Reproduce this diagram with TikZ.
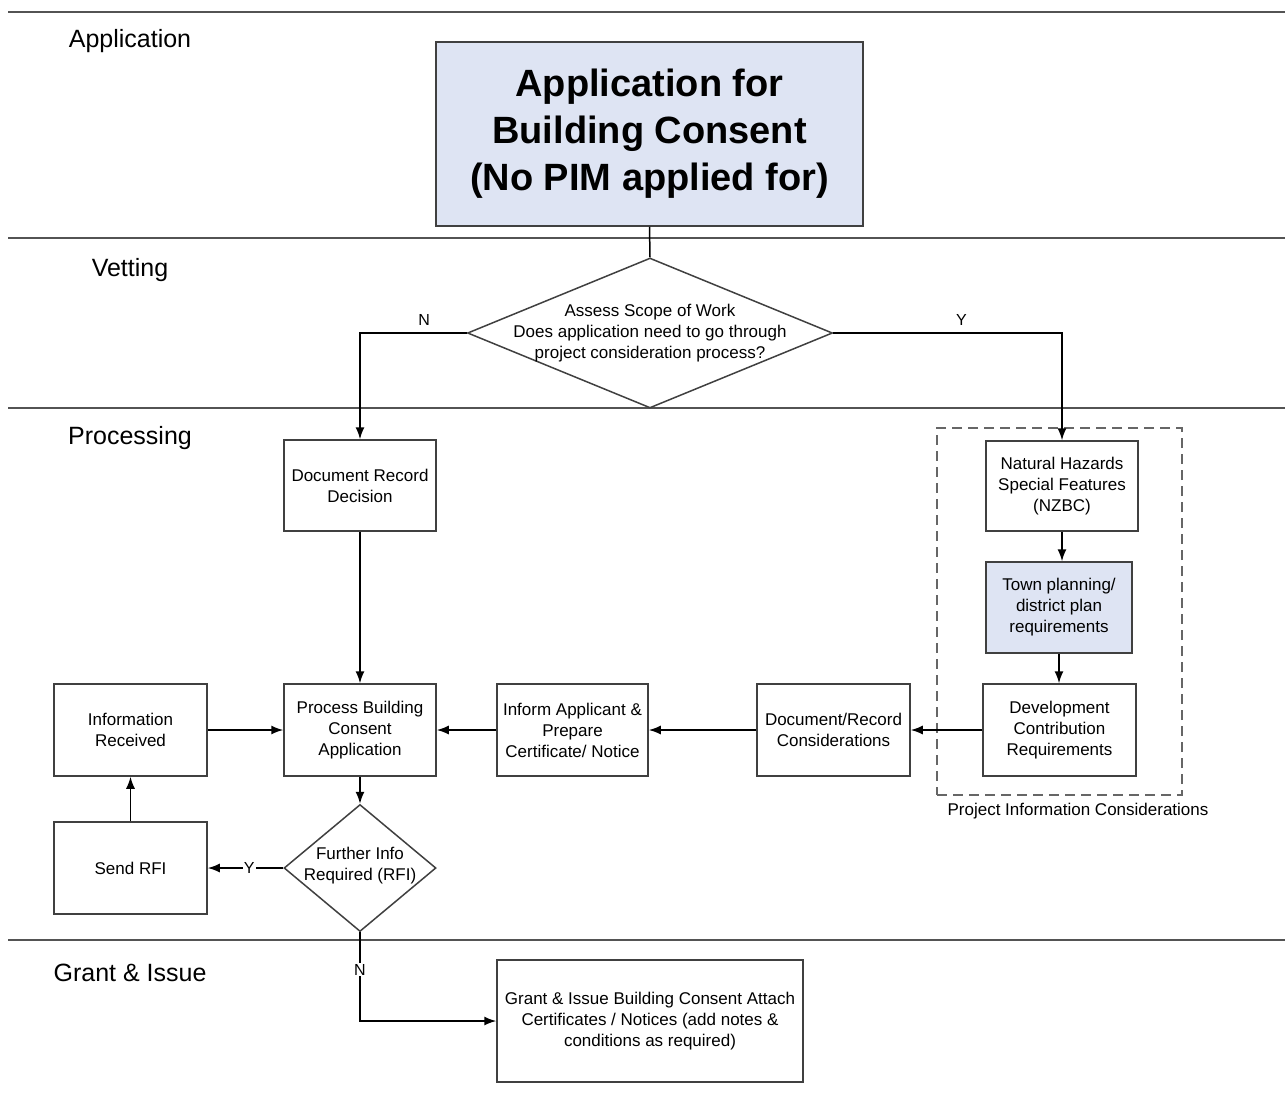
\documentclass[tikz,border=0pt]{standalone}
\usepackage{fontspec}
\setmainfont{Liberation Sans}
\usetikzlibrary{shapes.geometric, arrows.meta}
\definecolor{boxblue}{RGB}{222,228,243}
\definecolor{linegray}{RGB}{64,64,64}
\tikzstyle{process} = [rectangle, minimum width=152, minimum height=92, inner sep=0pt, text centered, align=center, draw=linegray, line width=1.5pt, fill=white, font=\fontsize{17}{21}\selectfont]
\tikzstyle{decision} = [diamond, inner sep=0pt, draw=linegray, line width=1.5pt, fill=white]
\tikzstyle{dectext} = [inner sep=0pt, text centered, align=center, font=\fontsize{17}{21}\selectfont]
\tikzstyle{lane} = [draw=linegray!90, line width=2pt]
\tikzstyle{lanelabel} = [font=\fontsize{25}{30}\selectfont]
\tikzstyle{arrow} = [line width=1.5pt, ->, >={Latex[length=12pt, width=9pt]}]
\tikzstyle{yn} = [font=\fontsize{16}{20}\selectfont, inner sep=1pt]

\begin{document}
\begin{tikzpicture}[x=1pt, y=-1pt]
		\useasboundingbox (0,0) rectangle (1285,1104);
		% swim lanes
		\foreach \y in {12,238,408,940}
			\draw [lane] (8,\y) -- (1285,\y);
		\node (lane1) [lanelabel] at (130,41) {Application};
		\node (lane2) [lanelabel] at (130,270) {Vetting};
		\node (lane3) [lanelabel] at (130,438) {Processing};
		\node (lane4) [lanelabel] at (130,973) {Grant \& Issue};

		\node (start) [process, fill=boxblue, minimum width=427, minimum height=184, font=\bfseries\fontsize{38}{47}\selectfont] at (649.5,134) {Application for\\Building Consent\\(No PIM applied for)};
		\node (dec1) [decision, minimum width=365, minimum height=150] at (650,333) {};
		\node (dec1t) [dectext] at (dec1) {Assess Scope of Work\\Does application need to go through\\project consideration process?};

		% project information group
		\node (grp) [rectangle, draw=linegray!80, line width=2pt, dash pattern=on 10pt off 6pt, minimum width=245, minimum height=367] at (1059.5,611.5) {};
		\node (grplbl) [dectext] at (1078,811) {Project Information Considerations};

		\node (pro1) [process, minimum height=91] at (360,485.5) {Document Record\\Decision};
		\node (pro7) [process, minimum height=90] at (1062,486) {Natural Hazards\\Special Features\\(NZBC)};
		\node (pro8) [process, fill=boxblue, minimum width=146, minimum height=91] at (1059,607.5) {Town planning/\\district plan\\requirements};
		\node (pro6) [process, minimum width=153] at (1059.5,730) {Development\\Contribution\\Requirements};
		\node (pro5) [process, minimum width=153] at (833.5,730) {Document/Record\\Considerations};
		\node (pro4) [process, minimum width=151] at (572.5,730) {Inform Applicant \&\\Prepare\\Certificate/ Notice};
		\node (pro2) [process] at (360,730) {Process Building\\Consent\\Application};
		\node (pro3) [process, minimum width=153] at (130.5,730) {Information\\Received};
		\node (dec2) [decision, minimum width=152, minimum height=127] at (360,868) {};
		\node (dec2t) [dectext] at (360,866) {Further Info\\Required (RFI)};
		\node (pro9) [process, minimum width=153] at (130.5,868) {Send RFI};
		\node (pro10) [process, minimum width=306, minimum height=122] at (650,1021) {Grant \& Issue Building Consent Attach\\Certificates / Notices (add notes \&\\conditions as required)};

		\draw [line width=1.5pt] (start.south) -- (dec1.north);
		\draw [arrow] (dec1.west) -| node [yn, pos=0.2, above=6pt] {N} (pro1.north);
		\draw [arrow] (dec1.east) -| node [yn, pos=0.28, above=6pt] {Y} (pro7.north);
		\draw [arrow] (pro7.south) -- (pro7.south |- pro8.north);
		\draw [arrow] (pro8.south) -- (pro8.south |- pro6.north);
		\draw [arrow] (pro6) -- (pro5);
		\draw [arrow] (pro5) -- (pro4);
		\draw [arrow] (pro4) -- (pro2);
		\draw [arrow] (pro3) -- (pro2);
		\draw [arrow] (pro1) -- (pro2);
		\draw [arrow] (pro2) -- (dec2);
		\draw [arrow] (dec2.west) -- node [yn, fill=white, pos=0.45] {Y} (pro9.east);
		\draw [arrow] (pro9) -- (pro3);
		\draw [arrow] (dec2.south) |- node [yn, fill=white, pos=0.21] {N} (pro10.west);
		\end{tikzpicture}
\end{document}
